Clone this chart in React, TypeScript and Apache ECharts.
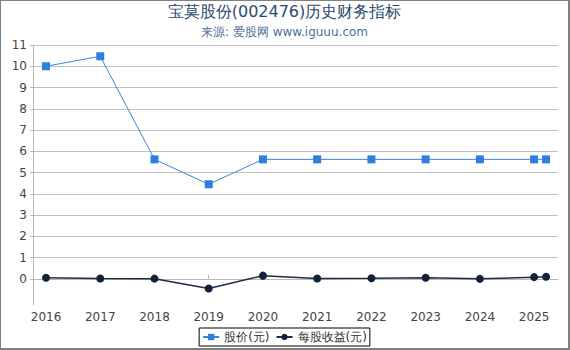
import React, { useEffect, useRef } from "react";
import * as echarts from "echarts";

const years = [2016, 2017, 2018, 2019, 2020, 2021, 2022, 2023, 2024, 2025];
const xPositions = [2016, 2017, 2018, 2019, 2020, 2021, 2022, 2023, 2024, 2025, 2025.22];
const priceValues = [10.0, 10.47, 5.62, 4.45, 5.62, 5.62, 5.62, 5.62, 5.62, 5.62, 5.62];
const epsValues = [0.05, 0.02, 0.01, -0.45, 0.15, 0.02, 0.03, 0.05, 0.0, 0.08, 0.1];
const yTicks = [0, 1, 2, 3, 4, 5, 6, 7, 8, 9, 10, 11];

export default function App() {
  const ref = useRef<HTMLDivElement>(null);
  useEffect(() => {
    document.body.style.margin = "0";
    const chart = echarts.init(ref.current!, undefined, { renderer: "svg" });
    const font = "'DejaVu Sans', sans-serif";
    chart.setOption({
      animation: false,
      textStyle: { fontFamily: font },
      title: {
        text: "宝莫股份(002476)历史财务指标",
        subtext: "来源: 爱股网 www.iguuu.com",
        left: "center",
        top: -3,
        itemGap: 7,
        textStyle: { fontSize: 16, fontWeight: "normal", color: "#2b4a6e", fontFamily: font },
        subtextStyle: { fontSize: 12, color: "#4e6f9a", fontFamily: font },
      },
      grid: { left: 32, right: 10, top: 44, bottom: 43, containLabel: false },
      xAxis: {
        type: "value",
        min: 2015.76,
        max: 2025.44,
        axisLine: { show: true, lineStyle: { color: "#b8b8b8" } },
        axisTick: { show: true, customValues: years, length: 4, inside: true, lineStyle: { color: "#b8b8b8" } },
        axisLabel: {
          customValues: years,
          formatter: (v: number) => String(Math.round(v)),
          color: "#444",
          fontSize: 12,
          margin: 6,
        },
        splitLine: { show: false },
      },
      yAxis: {
        type: "value",
        min: -1.23,
        max: 11,
        axisLine: { show: true, lineStyle: { color: "#b8b8b8" } },
        axisTick: { show: true, customValues: yTicks, length: 3, lineStyle: { color: "#b8b8b8" } },
        axisLabel: { customValues: yTicks, color: "#444", fontSize: 12, margin: 6 },
        splitLine: { show: true, lineStyle: { color: "#c0c0c0", width: 1 } },
      },
      legend: {
        bottom: 2,
        left: "center",
        itemWidth: 16,
        itemHeight: 8,
        itemGap: 6,
        padding: [3, 3],
        borderColor: "#000",
        borderWidth: 1,
        textStyle: { color: "#333", fontSize: 12, fontFamily: font },
        data: ["股价(元)", "每股收益(元)"],
      },
      series: [
        {
          name: "股价(元)",
          type: "line",
          data: xPositions.map((x, i) => [x, priceValues[i]]),
          symbol: "rect",
          symbolSize: 8,
          lineStyle: { color: "#3a86d8", width: 1 },
          itemStyle: { color: "#2f7fdb" },
        },
        {
          name: "每股收益(元)",
          type: "line",
          data: xPositions.map((x, i) => [x, epsValues[i]]),
          symbol: "circle",
          symbolSize: 8,
          lineStyle: { color: "#1f2d44", width: 1.5 },
          itemStyle: { color: "#13203a" },
        },
      ],
    });
    return () => chart.dispose();
  }, []);
  return (
    <div
      style={{
        width: 570,
        height: 350,
        boxSizing: "border-box",
        borderLeft: "1px solid #808080",
        borderTop: "1px solid #808080",
        borderRight: "2px solid #808080",
        borderBottom: "2px solid #808080",
        overflow: "hidden",
      }}
    >
      <div ref={ref} style={{ width: 567, height: 347 }} />
    </div>
  );
}
